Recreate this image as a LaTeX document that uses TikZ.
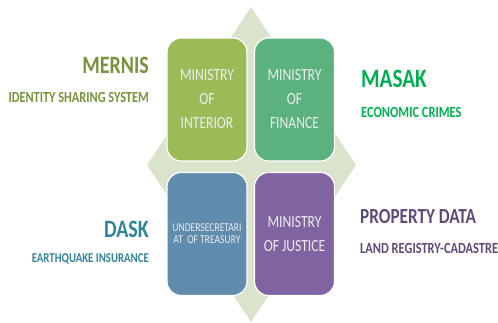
\documentclass[tikz,border=0pt]{standalone}
\usepackage{fontspec}
\setmainfont[FakeStretch=0.8]{Carlito}
\definecolor{diam}{RGB}{218,228,205}
\definecolor{cint}{RGB}{155,187,89}
\definecolor{cfin}{RGB}{91,178,126}
\definecolor{ctre}{RGB}{96,140,173}
\definecolor{cjus}{RGB}{128,100,162}
\definecolor{tmer}{RGB}{119,147,60}
\definecolor{tmas}{RGB}{0,176,80}
\definecolor{tdas}{RGB}{49,132,155}
\definecolor{tpro}{RGB}{95,73,122}
\definecolor{btext}{RGB}{236,236,236}
\tikzset{
  mbox/.style={draw=white, line width=1.2pt, rounded corners=14pt, minimum width=80pt, minimum height=123pt, inner sep=0pt, align=center, text=btext, font=\fontsize{17}{24}\selectfont},
  bigt/.style={inner sep=0pt, font=\fontsize{25}{25}\selectfont\bfseries},
  smallt/.style={inner sep=0pt, font=\fontsize{15}{15}\selectfont\bfseries},
}
\begin{document}
\begin{tikzpicture}[x=1pt,y=-1pt]
\useasboundingbox (0,0) rectangle (498,323);
\fill[diam] (251,7) -- (356,165) -- (251,322) -- (147,165) -- cycle;
\node[mbox, fill=cint] (int) at (207,99.5) {MINISTRY\\OF\\INTERIOR};
\node[mbox, fill=cfin] (fin) at (294.5,99.5) {MINISTRY\\OF\\FINANCE};
\node[mbox, fill=ctre, font=\fontsize{12}{12}\selectfont] (tre) at (207,234) {UNDERSECRETARI\\AT\ \ OF TREASURY};
\node[mbox, fill=cjus] (jus) at (294.5,234) {MINISTRY\\OF JUSTICE};
\node[bigt, text=tmer, anchor=east] (mer) at (149,65) {MERNIS};
\node[smallt, text=tmer, anchor=east, font=\fontsize{15.4}{15}\selectfont\bfseries] (mers) at (149,98) {IDENTITY SHARING SYSTEM};
\node[bigt, text=tmas, anchor=west, font=\fontsize{26.5}{25}\selectfont\bfseries] (mas) at (361,79) {MASAK};
\node[smallt, text=tmas, anchor=west, font=\fontsize{15.5}{15}\selectfont\bfseries] (mass) at (361,112) {ECONOMIC CRIMES};
\node[bigt, text=tdas, anchor=east] (das) at (149,229) {DASK};
\node[smallt, text=tdas, anchor=east, font=\fontsize{13.5}{15}\selectfont\bfseries] (dass) at (149,259) {EARTHQUAKE INSURANCE};
\node[bigt, text=tpro, anchor=west, font=\fontsize{21.5}{25}\selectfont\bfseries] (pro) at (360,217) {PROPERTY DATA};
\node[smallt, text=tpro, anchor=west, font=\fontsize{15.5}{15}\selectfont\bfseries] (pros) at (360,248) {LAND REGISTRY-CADASTRE};
\end{tikzpicture}
\end{document}
